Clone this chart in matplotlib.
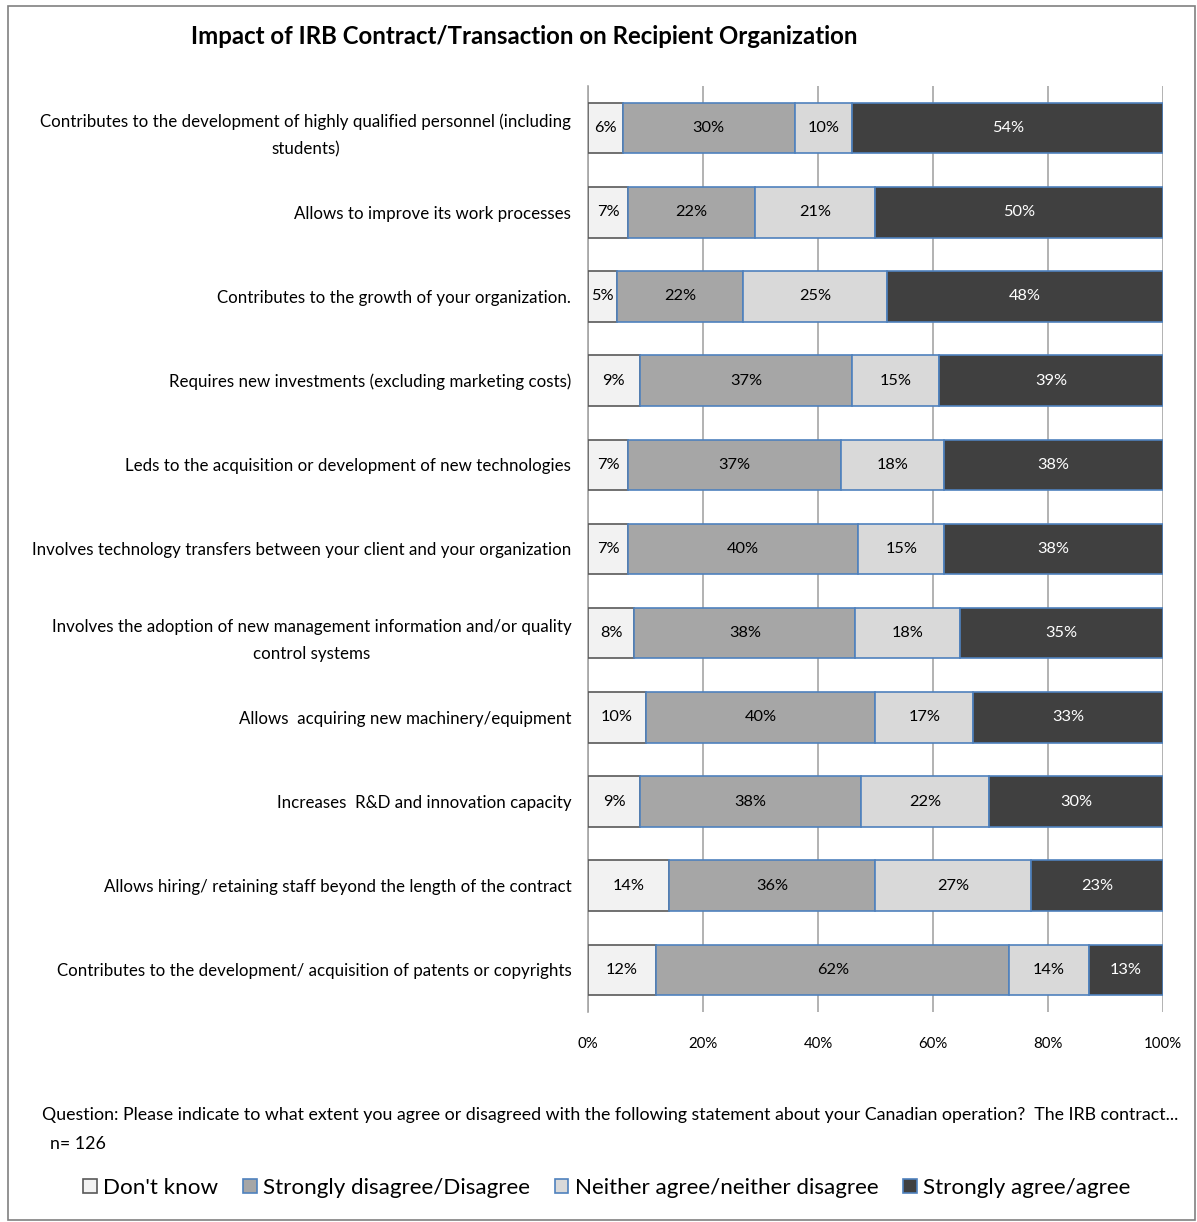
import matplotlib
matplotlib.use("Agg")
import matplotlib.pyplot as plt
from matplotlib.patches import Patch, Rectangle
from matplotlib.font_manager import FontProperties
from matplotlib.backends.backend_agg import RendererAgg
import numpy as np

FONT = "Lato"
plt.rcParams["font.family"] = [FONT, "DejaVu Sans"]

categories = [
    "Contributes to the development of highly qualified personnel (including\nstudents)",
    "Allows to improve its work processes",
    "Contributes to the growth of your organization.",
    "Requires new investments (excluding marketing costs)",
    "Leds to the acquisition or development of new technologies",
    "Involves technology transfers between your client and your organization",
    "Involves the adoption of new management information and/or quality\ncontrol systems",
    "Allows  acquiring new machinery/equipment",
    "Increases  R&D and innovation capacity",
    "Allows hiring/ retaining staff beyond the length of the contract",
    "Contributes to the development/ acquisition of patents or copyrights",
]
dont_know = [6, 7, 5, 9, 7, 7, 8, 10, 9, 14, 12]
disagree = [30, 22, 22, 37, 37, 40, 38, 40, 38, 36, 62]
neither = [10, 21, 25, 15, 18, 15, 18, 17, 22, 27, 14]
agree = [54, 50, 48, 39, 38, 38, 35, 33, 30, 23, 13]
series_names = ["Don't know", "Strongly disagree/Disagree",
                "Neither agree/neither disagree", "Strongly agree/agree"]
tick_labels = ["0%", "20%", "40%", "60%", "80%", "100%"]
title = "Impact of IRB Contract/Transaction on Recipient Organization"
question = ("Question: Please indicate to what extent you agree or disagreed with the following "
            "statement about your Canadian operation?  The IRB contract...")
n_text = "n= 126"

colors = ["#F2F2F2", "#A6A6A6", "#D9D9D9", "#404040"]
edges = ["#595959", "#4F81BD", "#4F81BD", "#4F81BD"]
txt_colors = ["black", "black", "black", "white"]

_r = RendererAgg(100, 100, 100)


def fit(s, target_px, weight="normal"):
    fp = FontProperties(family=[FONT, "DejaVu Sans"], size=10, weight=weight)
    w = _r.get_text_width_height_descent(s, fp, ismath=False)[0]
    return 10 * target_px / w


W, H = 1197, 1222
fig = plt.figure(figsize=(W / 100, H / 100), dpi=100)
ax = fig.add_axes([588 / W, 1 - 1012 / H, (1163 - 588) / W, (1012 - 86) / H])

cat_fs = fit("Involves technology transfers between your client and your organization", 538)
bar_fs = fit("30%", 32)
tick_fs = fit("100%", 38)
title_fs = fit(title, 668, "bold")
q_fs = fit(question, 1138)
leg_fs = fit("Strongly disagree/Disagree", 267)

data = np.array([dont_know, disagree, neither, agree], dtype=float)
totals = data.sum(axis=0)
fracs = data / totals
y = np.arange(len(categories))
left = np.zeros(len(categories))
for i in range(4):
    ax.barh(y, fracs[i], left=left, height=0.6, color=colors[i],
            edgecolor=edges[i], linewidth=1.2, zorder=3)
    for j in range(len(categories)):
        ax.text(left[j] + fracs[i][j] / 2, y[j], f"{int(data[i][j])}%",
                ha="center", va="center", fontsize=bar_fs, color=txt_colors[i], zorder=4)
    left += fracs[i]

ax.set_xlim(0, 1)
ax.set_ylim(len(categories) - 0.5, -0.5)
ax.set_xticks(np.linspace(0, 1, 6))
ax.set_xticklabels(tick_labels, fontsize=tick_fs)
ax.set_yticks(y)
ax.set_yticklabels(categories, fontsize=cat_fs, ha="right", multialignment="center",
                   linespacing=1.85)
ax.tick_params(axis="y", length=0, pad=12)
ax.tick_params(axis="x", length=0, pad=18)
ax.grid(axis="x", color="#A6A6A6", linewidth=1.2, zorder=0)
for s in ["top", "right", "bottom"]:
    ax.spines[s].set_visible(False)
ax.spines["left"].set_color("#A6A6A6")
ax.spines["left"].set_linewidth(1.2)

fig.text(524 / W, 1 - 36 / H, title, ha="center", va="center",
         fontsize=title_fs, fontweight="bold")
fig.text(42 / W, 1 - 1115 / H, question, ha="left", va="center", fontsize=q_fs)
fig.text(50 / W, 1 - 1144 / H, n_text, ha="left", va="center", fontsize=q_fs)

handles = [Patch(facecolor=colors[i], edgecolor=edges[i], linewidth=1.2) for i in range(4)]
fig.legend(handles, series_names, loc="center", bbox_to_anchor=(607 / W, 1 - 1188 / H),
           ncol=4, frameon=False, fontsize=leg_fs, handlelength=0.6, handleheight=0.6,
           handletextpad=0.3, columnspacing=1.1)

fig.add_artist(Rectangle((8 / W, 2 / H), (W - 10) / W, (H - 8) / H, transform=fig.transFigure,
                         fill=False, edgecolor="#808080", linewidth=1.2))

fig.savefig("out.png", dpi=100)
